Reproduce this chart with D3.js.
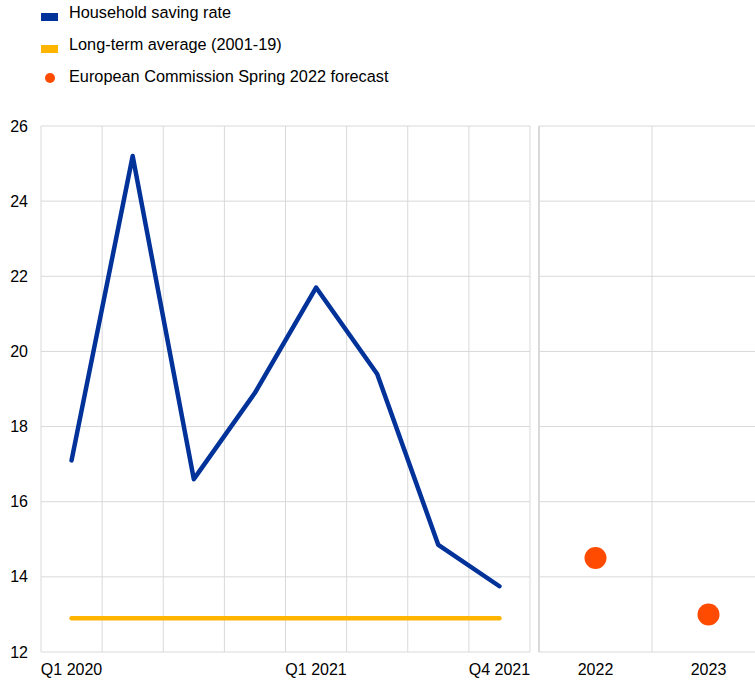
<!DOCTYPE html>
<meta charset="utf-8">
<script src="https://d3js.org/d3.v7.min.js"></script>
<style>
body{margin:0; background:#fff;}
svg text{font-family:Arial, "Liberation Sans", sans-serif; fill:#000;}
.grid line{stroke:#d9d9d9; stroke-width:1;}
.tick-label{font-size:16px;}
.legend-label{font-size:16.3px;}
</style>
<div id="vis"></div>
<script>

// Data
var quarters = ["Q1 2020","Q2 2020","Q3 2020","Q4 2020","Q1 2021","Q2 2021","Q3 2021","Q4 2021"];
var savingRate = [17.1, 25.2, 16.6, 18.9, 21.7, 19.4, 14.85, 13.75];
var longTermAvg = 12.9;
var years = ["2022","2023"];
var forecast = [14.5, 13.0];
var yTicks = [12,14,16,18,20,22,24,26];
var shownQuarters = ["Q1 2020","Q1 2021","Q4 2021"];

var legendItems = [
  {label:"Household saving rate", color:"#003299", type:"rect"},
  {label:"Long-term average (2001-19)", color:"#ffb400", type:"rect"},
  {label:"European Commission Spring 2022 forecast", color:"#ff4b00", type:"dot"}
];

var w = 755, h = 680;
var plotTop = 126, plotBottom = 652;

var svg = d3.select("#vis").append("svg")
    .attr("width", w).attr("height", h);

var y = d3.scaleLinear().domain([12, 26]).range([plotBottom, plotTop]);

var x = d3.scaleBand().domain(quarters).range([41, 530]);
var x2 = d3.scaleBand().domain(years).range([539, 765]);

// grid - left panel
var grid = svg.append("g").attr("class", "grid");
grid.selectAll(".hl").data(yTicks).enter().append("line")
    .attr("x1", 41).attr("x2", 530)
    .attr("y1", function(d){ return y(d); })
    .attr("y2", function(d){ return y(d); });
grid.selectAll(".vl").data(quarters.concat(["end"])).enter().append("line")
    .attr("x1", function(d){ return d == "end" ? 530 : x(d); })
    .attr("x2", function(d){ return d == "end" ? 530 : x(d); })
    .attr("y1", plotTop).attr("y2", plotBottom);

// grid - right panel
var grid2 = svg.append("g").attr("class", "grid");
grid2.selectAll(".hl").data(yTicks).enter().append("line")
    .attr("x1", 539).attr("x2", 765)
    .attr("y1", function(d){ return y(d); })
    .attr("y2", function(d){ return y(d); });
grid2.selectAll(".vl").data(years).enter().append("line")
    .attr("x1", function(d){ return x2(d); })
    .attr("x2", function(d){ return x2(d); })
    .attr("y1", plotTop).attr("y2", plotBottom)
    .style("stroke-width", function(d, i){ return i == 0 ? 2 : 1; });

// y tick labels
svg.selectAll(".ylab").data(yTicks).enter().append("text")
    .attr("class", "tick-label")
    .attr("x", 28)
    .attr("y", function(d){ return y(d); })
    .attr("dy", "0.35em")
    .attr("text-anchor", "end")
    .text(function(d){ return d; });

// x tick labels
svg.selectAll(".xlab").data(shownQuarters).enter().append("text")
    .attr("class", "tick-label")
    .attr("x", function(d){ return x(d) + x.bandwidth()/2; })
    .attr("y", 675)
    .attr("text-anchor", "middle")
    .text(function(d){ return d; });

svg.selectAll(".xlab2").data(years).enter().append("text")
    .attr("class", "tick-label")
    .attr("x", function(d){ return x2(d) + x2.bandwidth()/2; })
    .attr("y", 675)
    .attr("text-anchor", "middle")
    .text(function(d){ return d; });

// long-term average
svg.append("line")
    .attr("x1", x(quarters[0]) + x.bandwidth()/2)
    .attr("x2", x(quarters[quarters.length-1]) + x.bandwidth()/2)
    .attr("y1", y(longTermAvg)).attr("y2", y(longTermAvg))
    .attr("stroke", "#ffb400").attr("stroke-width", 4.5)
    .attr("stroke-linecap", "round");

// saving rate line
var line = d3.line()
    .x(function(d, i){ return x(quarters[i]) + x.bandwidth()/2; })
    .y(function(d){ return y(d); });

svg.append("path")
    .datum(savingRate)
    .attr("d", line)
    .attr("fill", "none")
    .attr("stroke", "#003299")
    .attr("stroke-width", 4.5)
    .attr("stroke-linejoin", "round")
    .attr("stroke-linecap", "round");

// forecast dots
svg.selectAll(".dot").data(forecast).enter().append("circle")
    .attr("cx", function(d, i){ return x2(years[i]) + x2.bandwidth()/2; })
    .attr("cy", function(d){ return y(d); })
    .attr("r", 11)
    .attr("fill", "#ff4b00");

// legend
var legend = svg.selectAll(".legend").data(legendItems).enter().append("g")
    .attr("transform", function(d, i){ return "translate(0," + (i*32) + ")"; });

legend.filter(function(d){ return d.type == "rect"; }).append("rect")
    .attr("x", 41).attr("y", 13).attr("width", 17).attr("height", 8)
    .attr("fill", function(d){ return d.color; });
legend.filter(function(d){ return d.type == "dot"; }).append("circle")
    .attr("cx", 50).attr("cy", 14).attr("r", 5)
    .attr("fill", function(d){ return d.color; });
legend.append("text")
    .attr("class", "legend-label")
    .attr("x", 69).attr("y", 18)
    .text(function(d){ return d.label; });

</script>
